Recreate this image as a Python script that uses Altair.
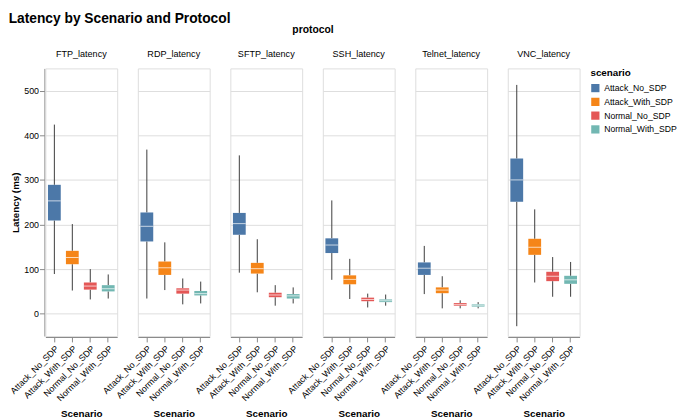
import altair as alt
import pandas as pd

protocols = ["FTP_latency", "RDP_latency", "SFTP_latency", "SSH_latency", "Telnet_latency", "VNC_latency"]
scenarios = ["Attack_No_SDP", "Attack_With_SDP", "Normal_No_SDP", "Normal_With_SDP"]

# five-number summaries per protocol: [min, q1, median, q3, max] per scenario
ftp = [[89, 209, 253, 289, 424], [52, 111, 126, 141, 201], [32, 54, 62, 70, 100], [34, 50, 56, 64, 88]]
rdp = [[34, 162, 196, 227, 368], [53, 87, 103, 117, 160], [21, 45, 53, 57, 79], [23, 41, 45, 51, 72]]
sftp = [[92, 177, 202, 226, 355], [48, 90, 101, 114, 167], [18, 37, 42, 47, 64], [23, 34, 40, 44, 59]]
ssh = [[76, 136, 154, 169, 254], [33, 66, 77, 86, 123], [14, 28, 32, 36, 45], [18, 26, 29, 32, 43]]
telnet = [[44, 87, 102, 115, 152], [12, 46, 53, 59, 84], [12, 18, 21, 24, 30], [12, 16, 19, 21, 26]]
vnc = [[-28, 251, 300, 348, 513], [70, 132, 149, 168, 234], [38, 73, 84, 94, 127], [38, 67, 76, 85, 116]]

summaries = [ftp, rdp, sftp, ssh, telnet, vnc]

rows = []
for p, summ in zip(protocols, summaries):
    for s, vals in zip(scenarios, summ):
        for v in vals:
            rows.append({"protocol": p, "scenario": s, "latency": v})
df = pd.DataFrame(rows)

base = alt.Chart(df).mark_boxplot(
    extent="min-max", size=13,
    rule=alt.MarkConfig(color="#3a3a3a"),
).encode(
    x=alt.X("scenario:N", title="Scenario", sort=scenarios,
            axis=alt.Axis(labelAngle=-45, labelFontSize=9, titleFontSize=10, titlePadding=6)),
    y=alt.Y("latency:Q", title="Latency (ms)",
            axis=alt.Axis(labelFontSize=9, titleFontSize=10, titlePadding=3, labelPadding=1)),
    color=alt.Color("scenario:N", sort=scenarios, title="scenario"),
).properties(width=73, height=272)

chart = base.facet(
    column=alt.Column("protocol:N", title="protocol", sort=protocols,
                      header=alt.Header(labelFontSize=9.2, titleFontSize=10.5, labelPadding=8, titlePadding=4)),
    spacing=19,
).properties(
    title=alt.Title("Latency by Scenario and Protocol", anchor="start", fontSize=14, offset=0),
    padding=0,
).configure(
    font="Liberation Sans"
).configure_legend(
    symbolType="square", labelFontSize=8.8, titleFontSize=10, symbolSize=70, offset=10,
    labelOffset=4, rowPadding=4, symbolOpacity=1
)

chart.save("out.html", embed_options={"renderer": "svg", "actions": False})
